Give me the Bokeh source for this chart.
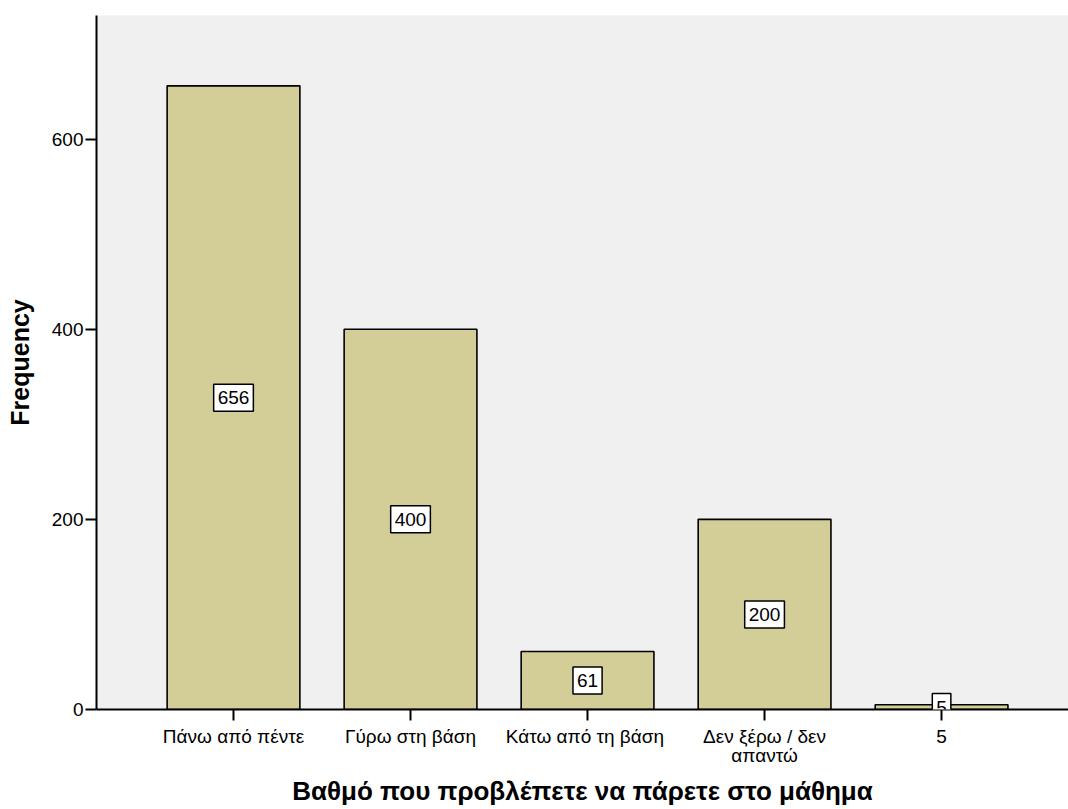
from bokeh.plotting import figure
from bokeh.models import ColumnDataSource, Label, FixedTicker, Range1d
from bokeh.embed import file_html
from bokeh.resources import INLINE

categories = ["Πάνω από πέντε", "Γύρω στη βάση", "Κάτω από  τη βάση", "Δεν ξέρω / δεν\nαπαντώ", "5"]
frequencies = [656, 400, 61, 200, 5]
y_ticks = [0, 200, 400, 600]

positions = list(range(1, len(categories) + 1))
src = ColumnDataSource(dict(x=positions, top=frequencies))

p = figure(width=1068, height=809, output_backend="svg", toolbar_location=None,
           x_range=Range1d(0.226, 5.717), y_range=Range1d(0, 730),
           min_border_left=96, min_border_right=0, min_border_top=15, min_border_bottom=99)

p.background_fill_color = "#F0F0F0"
p.border_fill_color = "white"
p.outline_line_color = None
p.grid.visible = False

p.vbar(x="x", top="top", width=0.75, bottom=0, source=src,
       fill_color="#D3CE98", line_color="black", line_width=1.6)

for xpos, v in zip(positions, frequencies):
    p.add_layout(Label(x=xpos, y=v / 2, text=str(v),
                       text_align="center", text_baseline="middle",
                       text_font="Liberation Sans", text_font_size="19px", text_color="black",
                       background_fill_color="white", border_line_color="black",
                       border_line_width=1.5, padding=dict(x=4, y=7)))

for ax in (p.xaxis, p.yaxis):
    ax.axis_line_color = "black"
    ax.axis_line_width = 2
    ax.major_tick_line_color = "black"
    ax.major_tick_line_width = 2
    ax.major_tick_in = 0
    ax.minor_tick_line_color = None
    ax.major_label_text_font = "Liberation Sans"
    ax.major_label_text_font_size = "19px"
    ax.major_label_text_color = "black"
    ax.axis_label_text_font = "Liberation Sans"
    ax.axis_label_text_font_style = "bold"
    ax.axis_label_text_color = "black"

p.yaxis.ticker = FixedTicker(ticks=y_ticks)
p.yaxis.major_tick_out = 11
p.yaxis.major_label_standoff = 2
p.yaxis.axis_label = "Frequency"
p.yaxis.axis_label_text_font_size = "25px"
p.yaxis.axis_label_standoff = 15

p.xaxis.ticker = FixedTicker(ticks=positions)
p.xaxis.major_label_overrides = {pos: cat for pos, cat in zip(positions, categories)}
p.xaxis.major_label_text_line_height = 0.95
p.xaxis.major_tick_out = 11
p.xaxis.major_label_standoff = 5
p.xaxis.axis_label = "Βαθμό που προβλέπετε να πάρετε στο μάθημα"
p.xaxis.axis_label_text_font_size = "26px"
p.xaxis.axis_label_standoff = 7

open("out.html", "w").write(file_html(p, INLINE))
